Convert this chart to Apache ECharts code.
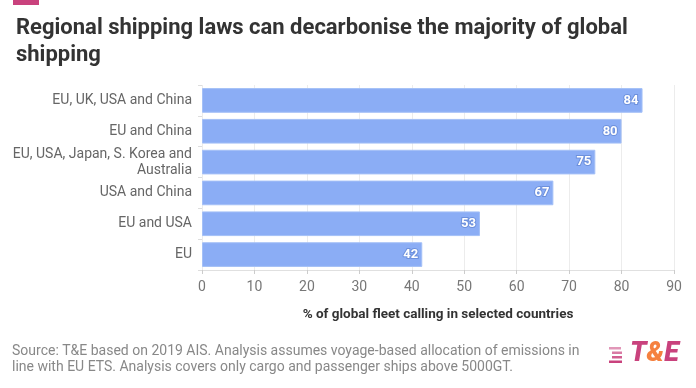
<!DOCTYPE html>
<html><head><meta charset="utf-8">
<script src="https://cdn.jsdelivr.net/npm/echarts@6/dist/echarts.min.js"></script>
<style>html,body{margin:0;padding:0;background:#fff}#c{width:696px;height:388px}</style>
</head><body><div id="c"></div>
<script>
const categories = ['EU, UK, USA and China','EU and China','EU, USA, Japan, S. Korea and\nAustralia','USA and China','EU and USA','EU'];
const values = [84, 80, 75, 67, 53, 42];
const xTicks = [0,10,20,30,40,50,60,70,80,90];
const titleText = 'Regional shipping laws can decarbonise the majority of global\nshipping';
const axisName = '% of global fleet calling in selected countries';
const sourceText = 'Source: T&E based on 2019 AIS. Analysis assumes voyage-based allocation of emissions in\nline with EU ETS. Analysis covers only cargo and passenger ships above 5000GT.';

const chart = echarts.init(document.getElementById('c'), null, {renderer:'canvas'});
const font = 'Roboto';
chart.setOption({
  animation:false,
  textStyle:{fontFamily:font},
  title:{text:titleText,left:11,top:10,textStyle:{fontFamily:font,fontSize:22,fontWeight:'bold',color:'#333',lineHeight:27}},
  grid:{left:202,right:22,top:85,bottom:118,containLabel:false},
  xAxis:{type:'value',min:0,max:90,interval:10,
    name:axisName,nameLocation:'middle',nameGap:38,
    nameTextStyle:{fontFamily:font,fontSize:13.5,fontWeight:'bold',color:'#333'},
    axisLine:{show:true,lineStyle:{color:'#e0e0e0'}},
    axisTick:{show:true,length:4,lineStyle:{color:'#ccc'}},
    axisLabel:{color:'#777',fontSize:14,margin:10,formatter:v=>xTicks.includes(v)?String(v):''},
    splitLine:{show:true,lineStyle:{color:'#ececec'}}},
  yAxis:{type:'category',data:categories,inverse:true,
    axisLine:{show:false},
    axisTick:{show:true,length:4,lineStyle:{color:'#ddd'}},
    axisLabel:{color:'#666',fontSize:14,margin:10,lineHeight:16,align:'right'}},
  series:[{type:'bar',data:values,barCategoryGap:'20%',
    itemStyle:{color:'#8badf5',borderColor:'#a4c0f7',borderWidth:1},
    label:{show:true,position:'insideRight',distance:4,color:'#fff',fontWeight:'bold',fontSize:13,
      textBorderColor:'#6d90dc',textBorderWidth:2}}],
  graphic:[
    {type:'rect',shape:{x:13,y:0,width:26,height:5},style:{fill:'#c9427d'}},
    {type:'text',left:12,top:343,style:{text:sourceText,fontFamily:font,fontSize:14,lineHeight:16.5,fill:'#888'}},
    {type:'rect',shape:{x:609,y:347,width:12,height:2.5},style:{fill:'#c9427d',opacity:0.55}},
    {type:'rect',shape:{x:612,y:351.5,width:10,height:2.5},style:{fill:'#c9427d',opacity:0.7}},
    {type:'rect',shape:{x:612,y:356,width:10,height:2.5},style:{fill:'#c9427d',opacity:0.85}},
    {type:'rect',shape:{x:609,y:360.5,width:13,height:2.5},style:{fill:'#c9427d'}},
    {type:'text',x:630,y:341,style:{rich:{p:{fontFamily:font,fontSize:27,fontWeight:900,fontStyle:'italic',fill:'#c9427d'},o:{fontFamily:font,fontSize:27,fontWeight:900,fontStyle:'italic',fill:'#f5813f'}},text:'{p|T}{o|&}{p|E}'}}
  ]
});
</script></body></html>
